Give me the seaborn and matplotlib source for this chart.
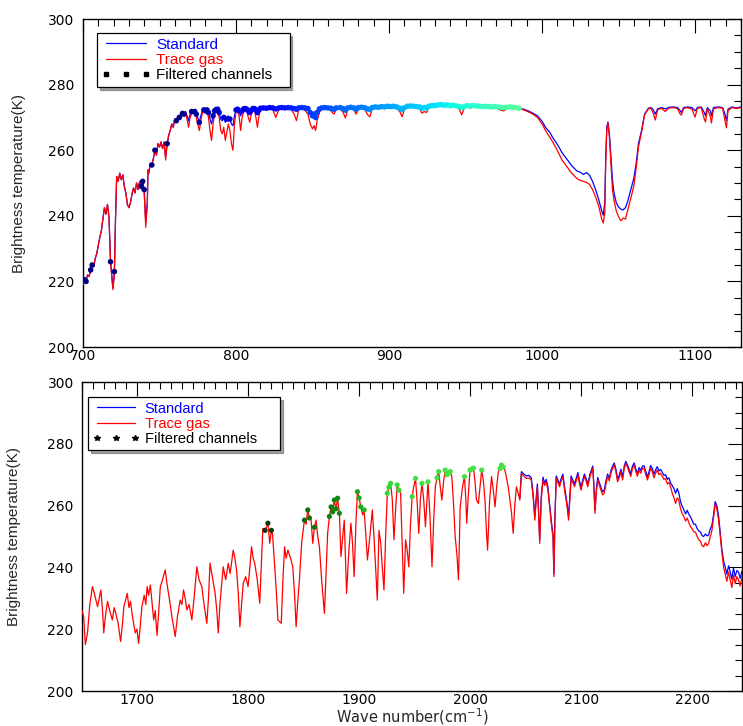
import matplotlib
matplotlib.use("Agg")
import matplotlib.pyplot as plt
import seaborn as sns
import numpy as np
from matplotlib.lines import Line2D
from matplotlib.ticker import MultipleLocator
from matplotlib.colors import LinearSegmentedColormap

# ---------------- TOP PANEL DATA (700-1130 cm-1) ----------------
wn_top = [
    700, 701, 702, 703, 704, 705, 706, 707, 708, 709,
    710, 711, 712, 713, 714, 715, 716, 717, 718, 719,
    719.6, 720.5, 721.3, 722, 723, 724, 725, 726, 727, 728,
    729, 730, 731, 732, 733, 734, 735, 736, 737, 738,
    739, 740, 741, 742, 742.5, 743, 744, 745, 746, 747,
    748, 749, 750, 751, 752, 753, 754, 755, 756, 757,
    758, 759, 760, 761, 762, 763, 764, 765, 766, 767,
    768, 769, 770, 771, 772, 773, 774, 775, 776, 777,
    778, 779, 780, 781, 782, 783, 784, 785, 786, 787,
    788, 789, 790, 791, 792, 793, 794, 795, 796, 797,
    798, 799, 800, 801, 802, 803, 804, 805, 806, 807,
    808, 809, 810, 811, 812, 813, 814, 815, 816, 818,
    820, 822, 824, 826, 828, 830, 832, 834, 836, 838,
    839.5, 841, 843, 845, 847, 848.5, 850, 851, 852, 853,
    854.5, 856, 858, 860, 862, 864, 865.5, 868, 870, 871.5,
    873, 875, 877, 878.5, 880, 882, 884, 886, 887.5, 889,
    891, 893, 895, 897, 899, 901, 903, 905, 907, 908.5,
    910, 912, 914, 916, 918, 920, 921.5, 923, 924.5, 926,
    928, 930, 932, 934, 936, 938, 940, 942, 944, 946,
    947.5, 949, 951, 953, 955, 957, 959, 961, 963, 965,
    967, 969, 971, 973, 975, 977, 979, 981, 983, 985,
    988, 991, 994, 997, 1000, 1002.5, 1005, 1007, 1009, 1011,
    1013, 1015, 1017, 1019, 1021, 1023, 1025, 1027, 1029, 1031,
    1033, 1035, 1037, 1039, 1040, 1041, 1041.6, 1042.3, 1043, 1044,
    1045, 1046, 1047, 1048.5, 1050, 1051.5, 1053, 1054.5, 1056, 1058.5,
    1060, 1061.5, 1063, 1065, 1067, 1069.5, 1071, 1072.5, 1074, 1075.5,
    1078, 1080.5, 1083, 1086, 1088.5, 1090, 1091, 1092.5, 1095, 1098,
    1100, 1101.5, 1104, 1106, 1106.8, 1108, 1110, 1110.7, 1112, 1115,
    1118, 1119.5, 1120.5, 1121.5, 1124, 1127, 1130,
]
bt_standard_top = [
    219.5, 220.5, 220, 222, 221.5, 223.5, 225, 224.5, 227, 228.5,
    231, 233.5, 235.5, 239, 242.5, 240.5, 243.5, 239.5, 226, 221,
    218, 223, 240, 252, 250.5, 253, 251, 252.5, 249, 247,
    243.5, 242.5, 244, 246.5, 248.5, 247, 250, 248, 250.5, 249,
    250.5, 248, 238, 244, 254, 253, 256, 255.5, 257.5, 260,
    258.5, 262, 261, 262.5, 260.5, 262.5, 258, 262, 264.5, 266,
    268, 267, 269.5, 269, 270.5, 270, 271, 271.2, 271, 271.8,
    270.5, 269, 271, 271.8, 272.2, 271.8, 271, 270, 268.5, 270.5,
    272, 272.3, 272, 272.3, 271.5, 269.5, 268, 270.5, 272, 272.4,
    272.5, 271.5, 269.5, 269, 270, 268.5, 269.5, 270.5, 269.5, 268,
    267.5, 270.5, 272.3, 272.5, 272, 270.5, 272, 272.6, 272.7, 272.5,
    272, 271.5, 272.2, 272.7, 272.7, 272.3, 271.5, 272.3, 272.8, 272.9,
    272.8, 273, 272.9, 272.6, 272.9, 273, 272.9, 273, 272.9, 272.7,
    272.5, 272.9, 273, 272.9, 272.7, 271.5, 270.5, 271, 270, 271.5,
    272.6, 272.9, 273, 272.9, 272.8, 272.5, 272.9, 273, 272.7, 272.2,
    272.9, 273.1, 272.9, 272.5, 273, 273.1, 273, 272.6, 272.4, 273,
    273.2, 273.1, 273.3, 273.2, 273.4, 273.3, 273.4, 273.2, 272.8, 272.4,
    273, 273.4, 273.5, 273.4, 273.3, 273.2, 272.8, 273, 272.9, 273.4,
    273.6, 273.6, 273.8, 273.9, 273.7, 273.8, 273.6, 273.7, 273.5, 273.3,
    273, 273.3, 273.6, 273.5, 273.6, 273.5, 273.4, 273.3, 273.4, 273.3,
    273.2, 273.3, 273.2, 273.1, 273, 273.1, 273.2, 273.1, 273, 272.8,
    272.5, 272, 271.3, 270.5, 268.8, 266.8, 265.5, 263.8, 262.5, 261,
    259.3, 258, 256.8, 255.5, 254.5, 253.6, 253.3, 252.6, 253.2, 252.4,
    250.5, 248, 245, 241.5, 240.2, 244, 258, 267, 268.6, 265,
    258, 251, 247, 244, 242.7, 242, 241.8, 242.5, 244.5, 248.8,
    251.5, 256, 262, 266, 271, 272.8, 273, 272.5, 271, 272.6,
    273, 272.6, 273.1, 273.2, 273, 272.2, 271.5, 273, 273.2, 273,
    272, 273, 273.2, 271.5, 270.5, 273, 272, 270.5, 273, 273.2,
    273, 271, 269, 272.5, 273.2, 272.9, 273.2,
]
bt_trace_top = [
    219, 220.5, 220, 222, 221.5, 223.5, 225, 224.5, 227, 228.5,
    231, 233.5, 235.5, 239, 242.5, 240.5, 243.5, 239.5, 226, 220,
    217.5, 222, 240, 252, 250.5, 253, 251, 252.5, 249, 247,
    243.5, 242.5, 244, 246.5, 248.5, 247, 250, 248, 250.5, 249,
    250.5, 247, 236.5, 243, 254, 253, 256, 255.5, 257.5, 260,
    258.5, 262, 261, 262.5, 260.5, 262.5, 257, 262, 264.5, 266,
    268, 267, 269.5, 268.5, 270, 269.5, 270.5, 271, 270.5, 271.5,
    269.5, 267, 270, 271, 272, 271.5, 270, 268, 266, 269,
    271.5, 272, 271.5, 272, 270, 266, 263, 268, 271, 272,
    272.3, 270, 266, 265, 267, 263, 265.5, 268, 266, 262,
    260, 268, 272, 272.3, 270.5, 266, 270, 272, 272.4, 272,
    270, 268.5, 271, 272.5, 272.3, 270, 267, 270.5, 272.6, 272.8,
    272.5, 272.7, 272.4, 270, 272.5, 272.8, 272.6, 272.8, 272.5, 271,
    269, 272.4, 272.8, 272.2, 271, 268, 266.5, 267.5, 266, 269,
    271.5, 272.6, 272.8, 272.6, 272, 271, 272.5, 272.8, 271.5, 269.8,
    272.5, 272.9, 272.3, 271, 272.7, 272.9, 272.5, 270.8, 270.2, 272.7,
    273, 272.8, 273.1, 273, 273.2, 273.1, 273.2, 272.8, 271.8, 270.2,
    272.3, 273.2, 273.3, 273.1, 273, 272.6, 271.3, 271.8, 271.5, 273,
    273.4, 273.5, 273.6, 273.7, 273.5, 273.6, 273.4, 273.5, 273.3, 272.4,
    270.8, 272.7, 273.4, 272.8, 273.2, 273.3, 273.2, 272.8, 273.2, 273.1,
    272.9, 273.1, 272.6, 272.2, 272, 272.7, 273, 272.9, 272.8, 272.7,
    272.3, 271.7, 271, 270, 268, 265.8, 264, 262.5, 260.8, 259,
    257, 255.8, 254.5, 253.2, 252.2, 251.3, 250.8, 250.5, 250.2, 249.6,
    248, 245.7, 243, 239, 237.8, 241, 256, 266, 268.5, 264,
    256, 248, 244.8, 241.5, 239.7, 238.5, 239.3, 239, 241.8, 246.3,
    249.2, 254.5, 261, 265.5, 270.8, 272.6, 272.8, 271.5, 269.2, 272.3,
    272.8, 271.8, 272.9, 273, 272.7, 271.2, 270.7, 272.7, 273, 272.5,
    270.1, 272.8, 273, 269.5, 268.6, 272.7, 270.2, 268.3, 272.6, 273,
    272.8, 269, 266.8, 272, 273, 272.7, 273,
]
# filtered channels (top): isolated channels + a dense window
filtered_top_single = [701, 702, 705, 706, 718, 720.5, 738, 739, 740, 745, 747,
                       755, 761, 763, 765, 766, 771, 773, 774, 776, 779, 780,
                       781, 782, 785, 786, 787, 788, 789, 792, 794, 796, 800,
                       801, 802, 804, 805, 806, 807]
filtered_top_window = (808, 985)

# ---------------- BOTTOM PANEL DATA (1650-2245 cm-1) ----------------
wn_bot = [
    1650, 1651.5, 1653, 1655, 1657, 1659.4, 1661.5, 1664, 1665.5, 1667,
    1668.5, 1669.6, 1671, 1673, 1675, 1677.3, 1679, 1680, 1682.5, 1684.8,
    1686.5, 1687.7, 1689, 1690.8, 1692.3, 1693.7, 1695.5, 1698, 1699.5, 1701,
    1702.5, 1704, 1706, 1707.5, 1708.7, 1710, 1711.6, 1713, 1714.6, 1716,
    1717.6, 1719, 1720.6, 1722.5, 1725, 1726.5, 1728, 1729.5, 1731, 1732.5,
    1734, 1736, 1738.5, 1740, 1741.5, 1743, 1744.5, 1746.5, 1749, 1751,
    1753.5, 1755.5, 1758, 1760, 1762.5, 1764, 1765.4, 1767, 1770, 1771.5,
    1772.8, 1774.5, 1777.3, 1779.5, 1781.8, 1783.5, 1786.3, 1787.8, 1789.3, 1790.8,
    1792.3, 1793.8, 1795.3, 1797.5, 1799.7, 1801.3, 1802.8, 1804.3, 1805.7, 1808,
    1810.2, 1811.5, 1813, 1815, 1817.6, 1819.2, 1820.7, 1821.8, 1823.7, 1825.2,
    1826.6, 1829.6, 1831, 1832.6, 1834, 1835.6, 1838, 1840, 1841.5, 1843,
    1844.5, 1846, 1848, 1850.5, 1852, 1853.5, 1855, 1856.5, 1858, 1859.5,
    1861, 1862.5, 1864, 1866, 1868.5, 1870, 1871.4, 1873, 1874.5, 1876,
    1877.4, 1879, 1880.4, 1882, 1883.4, 1885, 1886.4, 1887.5, 1888.5, 1890.5,
    1892.4, 1893.8, 1895.3, 1897, 1898.3, 1899.8, 1901.3, 1903, 1904.3, 1905.8,
    1907.3, 1909.5, 1911.7, 1913.5, 1916.2, 1917.7, 1919.3, 1920.7, 1922.2, 1923.7,
    1925.2, 1926.7, 1928.2, 1929.7, 1931.2, 1932.6, 1934.1, 1935.7, 1937.2, 1938.6,
    1940, 1941.7, 1943, 1944.6, 1946, 1947.6, 1949, 1950.6, 1952, 1953.6,
    1955, 1956.5, 1958, 1959.6, 1961, 1961.9, 1963.5, 1965.5, 1967, 1968.5,
    1970, 1971.5, 1973, 1974.4, 1976, 1977.4, 1979, 1980.5, 1982, 1983.4,
    1985, 1986.4, 1988, 1989.4, 1990.9, 1993, 1994.8, 1996, 1996.8, 1998.5,
    1999.8, 2001.5, 2002.9, 2004.2, 2005.6, 2007.3, 2008.8, 2010.3, 2011.8, 2013.3,
    2014.5, 2015.6, 2017.5, 2019.2, 2020.8, 2022.3, 2023.8, 2025.3, 2026.8, 2028.2,
    2029.7, 2031.2, 2032.7, 2034.2, 2035.7, 2037.2, 2038.7, 2040.1, 2041.6, 2043.1,
    2044.7, 2046.1, 2048.3, 2050.6, 2052.8, 2055, 2056.6, 2058.2, 2059.3, 2060.5,
    2061.5, 2062.6, 2064, 2065.6, 2067, 2068.5, 2070, 2071.5, 2073.7, 2074.6,
    2075.4, 2076.3, 2077.5, 2079, 2080.5, 2082, 2083.5, 2085, 2086.4, 2087.5,
    2088.6, 2089.8, 2090.9, 2092.4, 2094, 2095.5, 2097, 2098.5, 2099.9, 2101.4,
    2102.9, 2104.4, 2105.9, 2108, 2110.4, 2111.4, 2112.4, 2113.6, 2114.9, 2116.4,
    2117.8, 2119.3, 2120.8, 2122.3, 2123.8, 2125.3, 2126.8, 2128.3, 2129.8, 2131.3,
    2132.8, 2134.3, 2135.8, 2137.3, 2138.8, 2140.2, 2141.7, 2143.2, 2144.7, 2146.2,
    2147.8, 2149.3, 2150.7, 2152.2, 2153.7, 2155.2, 2156.7, 2158.2, 2159.7, 2161.2,
    2162.6, 2164.1, 2165.6, 2167.1, 2168.6, 2170.1, 2171.6, 2173.1, 2174.6, 2176.1,
    2177.6, 2179.1, 2180.6, 2182.1, 2183.6, 2185.1, 2186.6, 2188, 2189.5, 2191,
    2192.6, 2194.1, 2195.6, 2197, 2198.5, 2200, 2201.5, 2203, 2204.5, 2206,
    2207.5, 2209, 2210.4, 2212, 2213.5, 2214.9, 2216.4, 2217.9, 2219.3, 2220.8,
    2222.3, 2223.9, 2225.4, 2226.9, 2228.4, 2229.8, 2231.3, 2232.8, 2234.3, 2235.8,
    2237.3, 2238.8, 2240.3, 2241.8, 2243.3, 2245,
]
bt_trace_bot = [
    226, 224, 215, 219, 228, 233.8, 231, 227.3, 230, 232.7,
    226, 218.8, 224, 229, 226, 223, 227, 225.7, 222, 216,
    222, 227.3, 229, 231.6, 227, 229, 224, 218.8, 220, 215.4,
    221, 227.3, 231, 228, 233.8, 231, 234.3, 229, 223, 226,
    218, 225, 233.8, 236, 239.2, 235, 231.6, 228, 224, 221,
    217.6, 224, 229.4, 228, 232.7, 230, 226.2, 228, 223, 230,
    240.2, 236, 233.8, 228, 221.9, 230, 241.4, 238, 231.6, 226,
    218.8, 229, 240.2, 236, 241.3, 238, 245.6, 243, 239.2, 232,
    220.8, 228, 234.8, 237, 233.8, 240, 246.7, 243, 241.3, 236,
    228.4, 240, 252.6, 252, 254.3, 247.8, 252, 250.5, 240.2, 232,
    223, 221.9, 235, 246.7, 243, 245.6, 243, 240.2, 232, 220.8,
    229, 236, 248, 255.3, 254, 258.6, 256, 255.3, 247.8, 253,
    255.3, 250, 246.7, 236, 225.1, 238, 251, 256.5, 259.6, 258,
    261.8, 259, 262.4, 257.5, 243.5, 250, 255.3, 243, 231.6, 245,
    254.3, 248, 237, 255, 264.5, 262.5, 259.6, 257, 258.6, 251,
    242.4, 250, 258.6, 248, 229.4, 252, 247.8, 240, 232.7, 250,
    264, 266, 267.2, 262, 248.9, 258, 266.7, 265, 264, 248,
    231.6, 248.9, 246, 240.2, 253, 262.9, 266, 268.8, 262, 251,
    262, 267.2, 262, 253.2, 262, 267.7, 258, 240.2, 255, 266.1,
    269, 271, 266, 261.8, 268, 271.5, 270, 270.5, 271, 269.4,
    260, 250, 244, 236, 259.6, 266, 269.4, 262, 254.3, 265,
    271.5, 271.8, 272.1, 268, 261.8, 260.7, 266, 271.5, 268, 261.8,
    252, 245.6, 262, 269.4, 265, 259.6, 266, 271, 272, 273.1,
    272.5, 271.5, 269, 266.1, 262, 257.5, 251, 260, 266.1, 264,
    261.8, 270.5, 269.5, 268.8, 269, 268.3, 263, 255.3, 261, 266.1,
    258, 247.8, 262, 268.3, 266.5, 267.7, 265, 259.6, 252, 250,
    237, 255, 268.8, 267.5, 266.1, 268, 269.4, 265, 261.8, 259,
    255.3, 262, 268.8, 267.5, 266.1, 268, 269.9, 267, 265, 267.5,
    269.4, 268, 266.1, 269.5, 272.1, 266, 257.5, 264, 268.3, 266.5,
    265, 263.5, 264, 267, 269.4, 268, 270.5, 272, 273.1, 271,
    267.7, 269, 271, 268.3, 272, 273.7, 272.5, 271, 269.4, 272,
    273.1, 271, 269.5, 271.5, 270.5, 272, 272.1, 270, 268.3, 270,
    272.1, 271, 269, 270.5, 271.5, 270, 270.5, 269.5, 268.5, 268.8,
    267, 267.5, 266.1, 264, 262.5, 260.7, 262.5, 261.8, 259, 257.5,
    256.4, 255, 256, 254.5, 253.2, 252.5, 251.5, 251.5, 250, 249,
    248.5, 247, 246.7, 248, 247, 247.8, 250, 252, 256, 260.5,
    259, 255.3, 250, 244.6, 240, 238, 235.5, 238.5, 236, 233.5,
    237.5, 234.8, 237, 236, 234, 237,
]
# standard run (bottom) – below 2044 it coincides with the trace-gas run
wn_std_bot = wn_bot[240:]
bt_standard_bot = [
    262.5, 271, 270.2, 269.6, 269.8, 269, 264, 256.5, 262, 267,
    259, 249, 263, 269.2, 267.3, 268.5, 266, 260.5, 253, 251,
    238, 256, 269.6, 268.3, 267, 268.8, 270.2, 266, 262.8, 260,
    256.3, 263, 269.6, 268.3, 267, 268.8, 270.7, 268, 266, 268.3,
    270.2, 268.8, 267, 270.3, 272.8, 267, 258.5, 265, 269.1, 267.4,
    266, 264.5, 265, 268, 270.2, 268.8, 271.3, 272.8, 273.8, 271.8,
    268.6, 269.8, 271.8, 269.2, 272.8, 274.3, 273.2, 271.8, 270.3, 272.8,
    273.8, 271.8, 270.4, 272.3, 271.4, 272.8, 272.9, 271, 269.3, 271,
    273, 272, 270.2, 271.6, 272.6, 271.2, 271.7, 270.8, 269.8, 270,
    268.5, 269, 267.3, 266.5, 265.5, 264, 265.5, 264.2, 261.3, 259.8,
    258.6, 257.3, 258.5, 257.2, 256.4, 255.2, 254, 254, 252.6, 251.8,
    251.5, 250.3, 250, 250.8, 250.2, 250.5, 252.5, 253.7, 257, 261.3,
    260, 256.5, 251.2, 245.6, 242, 240.2, 237.8, 240.5, 238.6, 236.2,
    239.8, 237, 239, 238.5, 236.5, 238.8,
]
filtered_bot = [1815, 1817.6, 1820.7, 1850.5, 1853.5, 1855, 1859.5, 1873, 1874.5,
                1876, 1877.4, 1879, 1880.4, 1882, 1898.3, 1899.8, 1901.3, 1904.3,
                1925.2, 1926.7, 1928.2, 1934.1, 1935.7, 1947.6, 1950.6, 1956.5,
                1961.9, 1970, 1971.5, 1977.4, 1979, 1980.5, 1982, 1994.8, 1999.8,
                2001.5, 2002.9, 2010.3, 2026.8, 2028.2, 2029.7]

legend_labels = ["Standard", "Trace gas", "Filtered channels"]

assert len(wn_top) == len(bt_standard_top) == len(bt_trace_top)
assert len(wn_bot) == len(bt_trace_bot)
assert len(wn_std_bot) == len(bt_standard_bot)

# ---------------- STYLE ----------------
sns.set_style("white")
plt.rcParams["font.family"] = ["DejaVu Sans"]
plt.rcParams["axes.linewidth"] = 1.0

BLUE = "#0000ff"
RED = "#ff0000"
LABEL_FONT = ["Liberation Sans Narrow", "Liberation Sans", "DejaVu Sans"]

fig = plt.figure(figsize=(7.43, 7.26), dpi=100)
ax1 = fig.add_axes([0.1117, 0.5220, 0.8856, 0.4518])
ax2 = fig.add_axes([0.1104, 0.0482, 0.8883, 0.4256])


def style_axes(ax, xlim):
    ax.set_xlim(*xlim)
    ax.set_ylim(200, 300)
    ax.xaxis.set_major_locator(MultipleLocator(100))
    ax.xaxis.set_minor_locator(MultipleLocator(10))
    ax.yaxis.set_major_locator(MultipleLocator(20))
    ax.yaxis.set_minor_locator(MultipleLocator(5))
    ax.tick_params(which="both", direction="in", top=True, right=True,
                   colors="black", width=0.8, labelsize=10)
    ax.tick_params(which="major", length=10)
    ax.tick_params(which="minor", length=5)
    ax.tick_params(axis="y", which="major", pad=6)
    ax.tick_params(axis="x", which="major", pad=1.5)
    for s in ax.spines.values():
        s.set_color("black")
        s.set_linewidth(1.0)
    ax.set_ylabel("Brightness temperature(K)", fontsize=11, family=LABEL_FONT)


def add_legend(ax, anchor, width, height, marker, ms, size):
    handles = [Line2D([], [], color=BLUE, lw=0.9),
               Line2D([], [], color=RED, lw=0.9),
               Line2D([], [], color="black", ls="none", marker=marker, ms=ms)]
    leg = ax.legend(handles, legend_labels, loc="upper left",
                    bbox_to_anchor=(anchor[0], anchor[1] - height, width, height),
                    mode="expand", borderaxespad=0, numpoints=3,
                    frameon=True, fancybox=False, shadow=True,
                    edgecolor="black", framealpha=1, handlelength=3.2,
                    labelspacing=0.08, borderpad=0.3, handletextpad=0.4,
                    prop={"family": ["Liberation Sans", "DejaVu Sans"], "size": size})
    leg.get_frame().set_linewidth(0.9)
    for txt, c in zip(leg.get_texts(), [BLUE, RED, "black"]):
        txt.set_color(c)
    leg.set_zorder(10)


jet_cmap = matplotlib.colormaps["jet"]

# ---------------- TOP PANEL ----------------
sns.lineplot(x=wn_top, y=bt_standard_top, ax=ax1, color=BLUE, linewidth=0.9,
             estimator=None, sort=False, zorder=2)
sns.lineplot(x=wn_top, y=bt_trace_top, ax=ax1, color=RED, linewidth=0.9,
             estimator=None, sort=False, zorder=3)
idx_top = [i for i, w in enumerate(wn_top)
           if w in filtered_top_single or filtered_top_window[0] <= w <= filtered_top_window[1]]
fx_top = [wn_top[i] for i in idx_top]
fy_top = [bt_standard_top[i] for i in idx_top]
sns.scatterplot(x=fx_top, y=fy_top, hue=fx_top, palette=jet_cmap, hue_norm=(760, 1250),
                s=16, linewidth=0, legend=False, ax=ax1, zorder=4)
style_axes(ax1, (700, 1130))
ax1.yaxis.set_label_coords(-0.0866, 0.5)
add_legend(ax1, (0.021, 0.957), 0.293, 0.165, "s", 2.8, 11)

# ---------------- BOTTOM PANEL ----------------
sns.lineplot(x=wn_std_bot, y=bt_standard_bot, ax=ax2, color=BLUE, linewidth=0.9,
             estimator=None, sort=False, zorder=2)
sns.lineplot(x=wn_bot, y=bt_trace_bot, ax=ax2, color=RED, linewidth=0.9,
             estimator=None, sort=False, zorder=3)
idx_bot = [wn_bot.index(w) for w in filtered_bot]
fx_bot = [wn_bot[i] for i in idx_bot]
fy_bot = [bt_trace_bot[i] for i in idx_bot]
green_cmap = LinearSegmentedColormap.from_list(
    "greens_ch", ["#0b2e0b", "#0c6a0c", "#138a13", "#33d633", "#44e044"])
sns.scatterplot(x=fx_bot, y=fy_bot, hue=fx_bot, palette=green_cmap,
                hue_norm=(1812, 1960), s=14, linewidth=0, legend=False,
                ax=ax2, zorder=4)
style_axes(ax2, (1650, 2245))
ax2.yaxis.set_label_coords(-0.092, 0.5)
ax2.set_xlabel(r"Wave number(cm$^{-1}$)", fontsize=10.5)
ax2.xaxis.set_label_coords(0.5, -0.05)
add_legend(ax2, (0.009, 0.951), 0.291, 0.162, "*", 4, 10.5)

fig.savefig("out.png", dpi=100)
